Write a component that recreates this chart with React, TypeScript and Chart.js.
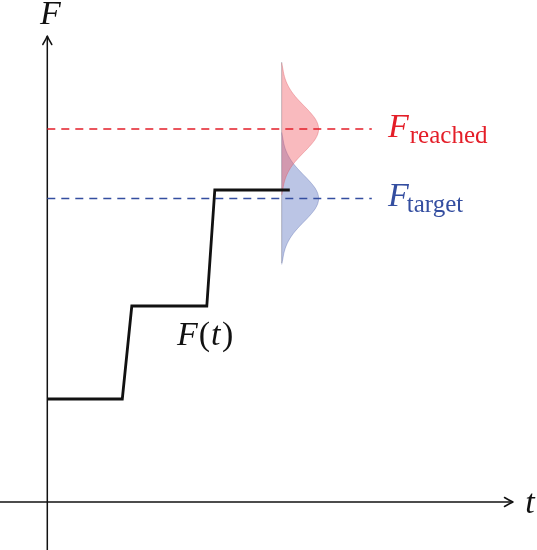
import React, { useEffect, useRef } from "react";
import { Chart, registerables } from "chart.js";

Chart.register(...registerables);

const W = 537;
const H = 550;

// Step function F(t)
const stepT = [0, 7.5, 8.45, 15.95, 16.75, 24.25];
const stepF = [10.3, 10.3, 19.6, 19.6, 31.2, 31.2];

// Horizontal guide levels
const reachedF = 37.3;
const targetF = 30.35;
const guideStartT = 0;
const guideEndT = 32.45;

// Sideways distributions (offset from centre, width)
const distBaseT = 23.44;
const distOffsets = [-6.6, -6, -5.5, -5, -4.5, -4, -3.5, -3, -2.5, -2, -1.5, -1, -0.5, 0, 0.5, 1, 1.5, 2, 2.5, 3, 3.5, 4, 4.5, 5, 5.5, 6, 6.6];
const distWidths = [0, 0.12, 0.21, 0.35, 0.55, 0.82, 1.16, 1.58, 2.05, 2.54, 2.99, 3.37, 3.61, 3.7, 3.61, 3.37, 2.99, 2.54, 2.05, 1.58, 1.16, 0.82, 0.55, 0.35, 0.21, 0.12, 0];

// Axes extents
const axisT = [-4.73, 46.57];
const axisF = [-4.8, 46.6];
const tRange = [-4.73, 48.97];
const fRange = [-4.8, 50.2];

const RED = "rgb(228, 30, 40)";
const BLUE = "rgb(52, 78, 160)";

type Label = { main: string; sub?: string; t: number; f: number; color: string; subDx?: number };
const labels: Label[] = [
  { main: "F", t: -0.73, f: 47.8, color: "#111" },
  { main: "t", t: 47.8, f: -1.1, color: "#111" },
  { main: "F(t)", t: 12.97, f: 15.7, color: "#111" },
  { main: "F", sub: "reached", t: 34.07, f: 36.5, color: RED, subDx: 1 },
  { main: "F", sub: "target", t: 34.07, f: 29.6, color: BLUE, subDx: -2 },
];

const overlay = {
  id: "overlay",
  afterDatasetsDraw(chart: any) {
    const { ctx, scales } = chart;
    const px = (t: number) => scales.x.getPixelForValue(t);
    const py = (f: number) => scales.y.getPixelForValue(f);
    ctx.save();
    ctx.strokeStyle = "#111";
    ctx.lineWidth = 1.5;
    ctx.lineCap = "round";
    ctx.lineJoin = "round";
    // x arrow
    const xt = px(axisT[1]);
    const xy = py(0);
    ctx.beginPath();
    ctx.moveTo(xt - 8.5, xy - 4.5);
    ctx.quadraticCurveTo(xt - 3, xy - 1.2, xt, xy);
    ctx.quadraticCurveTo(xt - 3, xy + 1.2, xt - 8.5, xy + 4.5);
    ctx.stroke();
    // y arrow
    const yx = px(0);
    const yt = py(axisF[1]);
    ctx.beginPath();
    ctx.moveTo(yx - 4.5, yt + 8.5);
    ctx.quadraticCurveTo(yx - 1.2, yt + 3, yx, yt);
    ctx.quadraticCurveTo(yx + 1.2, yt + 3, yx + 4.5, yt + 8.5);
    ctx.stroke();

    // labels
    ctx.textBaseline = "alphabetic";
    ctx.textAlign = "left";
    for (const l of labels) {
      const x0 = px(l.t);
      const y0 = py(l.f);
      ctx.fillStyle = l.color;
      if (l.main === "F(t)") {
        ctx.font = "italic 34px 'Liberation Serif', serif";
        const wF = ctx.measureText("F").width;
        ctx.fillText("F", x0, y0);
        ctx.font = "34px 'Liberation Serif', serif";
        const wP = ctx.measureText("(").width;
        ctx.fillText("(", x0 + wF + 1, y0);
        ctx.font = "italic 34px 'Liberation Serif', serif";
        const wt = ctx.measureText("t").width;
        ctx.fillText("t", x0 + wF + 1 + wP + 1, y0);
        ctx.font = "34px 'Liberation Serif', serif";
        ctx.fillText(")", x0 + wF + 1 + wP + 1 + wt + 1.5, y0);
        continue;
      }
      ctx.font = "italic 34px 'Liberation Serif', serif";
      ctx.fillText(l.main, x0, y0);
      if (l.sub) {
        const w = ctx.measureText(l.main).width;
        ctx.font = "25px 'Liberation Serif', serif";
        ctx.fillText(l.sub, x0 + w + (l.subDx || 0), y0 + 6);
      }
    }
    ctx.restore();
  },
};

function distData(center: number) {
  return distOffsets.map((o, i) => ({ x: distBaseT + distWidths[i], y: center + o }));
}

export default function App() {
  const ref = useRef<HTMLCanvasElement | null>(null);
  useEffect(() => {
    document.body.style.margin = "0";
    const canvas = ref.current;
    if (!canvas) return;
    const chart = new Chart(canvas, {
      type: "line",
      data: {
        datasets: [
          {
            label: "F(t)",
            data: stepT.map((t, i) => ({ x: t, y: stepF[i] })),
            borderColor: "#111",
            borderWidth: 2.8,
            pointRadius: 0,
            tension: 0,
            fill: false,
            order: 0,
          },
          {
            label: "reached",
            data: [
              { x: guideStartT, y: reachedF },
              { x: guideEndT, y: reachedF },
            ],
            borderColor: RED,
            borderWidth: 1.4,
            borderDash: [8, 6],
            pointRadius: 0,
            fill: false,
            order: 1,
          },
          {
            label: "target",
            data: [
              { x: guideStartT, y: targetF },
              { x: guideEndT, y: targetF },
            ],
            borderColor: BLUE,
            borderWidth: 1.4,
            borderDash: [8, 6],
            pointRadius: 0,
            fill: false,
            order: 1,
          },
          {
            label: "xaxis",
            data: [
              { x: axisT[0], y: 0 },
              { x: axisT[1], y: 0 },
            ],
            borderColor: "#111",
            borderWidth: 1.5,
            pointRadius: 0,
            fill: false,
            order: 2,
          },
          {
            label: "yaxis",
            data: [
              { x: 0, y: axisF[0] },
              { x: 0, y: axisF[1] },
            ],
            borderColor: "#111",
            borderWidth: 1.5,
            pointRadius: 0,
            fill: false,
            order: 2,
          },
          {
            label: "distReached",
            data: distData(reachedF),
            borderColor: "rgba(220, 80, 90, 0.35)",
            backgroundColor: "rgba(240, 90, 100, 0.42)",
            borderWidth: 1,
            pointRadius: 0,
            tension: 0.3,
            fill: "shape",
            order: 3,
          },
          {
            label: "distTarget",
            data: distData(targetF),
            borderColor: "rgba(60, 80, 160, 0.3)",
            backgroundColor: "rgba(60, 90, 180, 0.35)",
            borderWidth: 1,
            pointRadius: 0,
            tension: 0.3,
            fill: "shape",
            order: 4,
          },
          {
            label: "distBase",
            data: [
              { x: distBaseT, y: targetF - 6.45 },
              { x: distBaseT, y: reachedF + 6.7 },
            ],
            borderColor: "rgba(140, 140, 150, 0.6)",
            borderWidth: 1,
            pointRadius: 0,
            fill: false,
            order: 5,
          },
        ],
      },
      options: {
        animation: false,
        responsive: false,
        events: [],
        layout: { padding: 0 },
        plugins: { legend: { display: false }, tooltip: { enabled: false } },
        scales: {
          x: { type: "linear", display: false, min: tRange[0], max: tRange[1] },
          y: { type: "linear", display: false, min: fRange[0], max: fRange[1] },
        },
      },
      plugins: [overlay],
    } as any);
    return () => chart.destroy();
  }, []);
  return <canvas ref={ref} width={W} height={H} style={{ display: "block" }} />;
}
